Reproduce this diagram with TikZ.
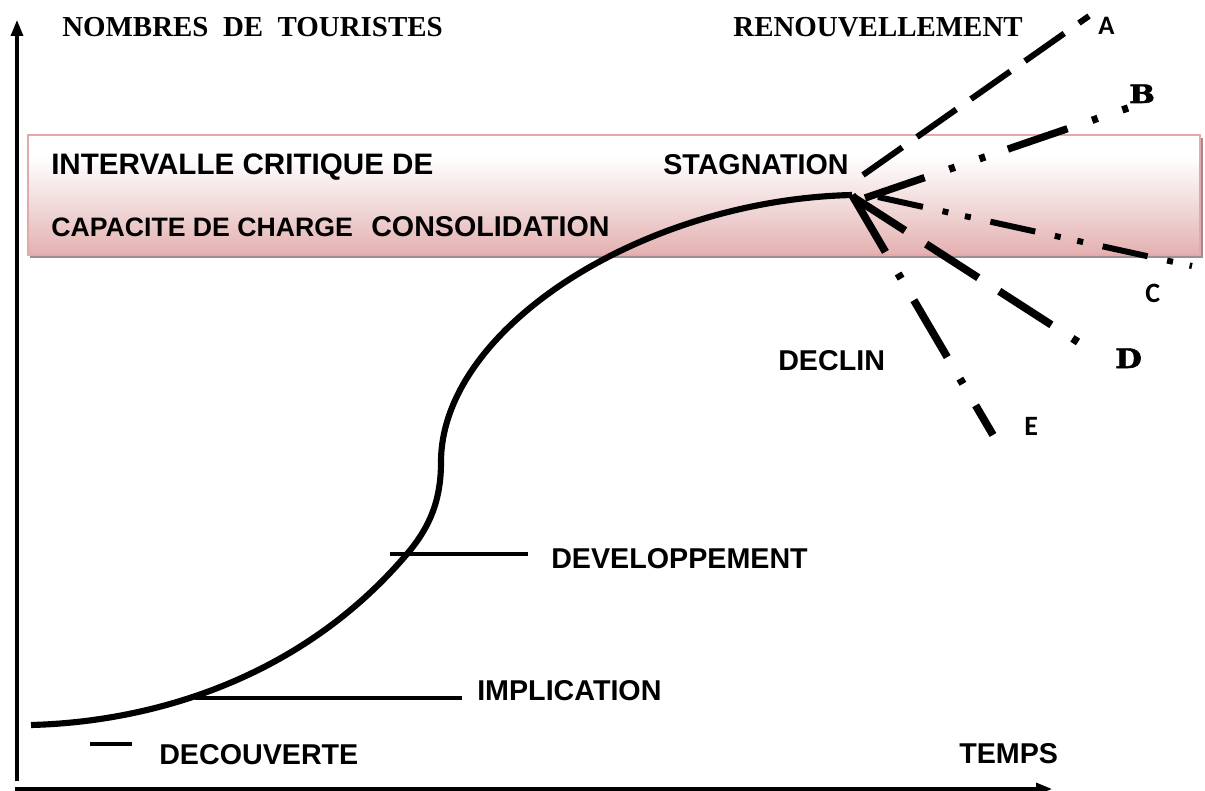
\documentclass[tikz,border=0pt]{standalone}
\usepackage{fontspec}
\usepackage{graphicx}
\usetikzlibrary{arrows.meta}
\setmainfont{Liberation Sans}
\newfontfamily\titlefont{Liberation Serif}
\newfontfamily\letterfont{Carlito}
\newfontfamily\slabfont{DejaVu Serif}[BoldFeatures={FakeBold=2}]

\definecolor{boxbottom}{RGB}{228,176,176}
\definecolor{boxmid}{RGB}{242,220,220}
\definecolor{boxedge}{RGB}{226,170,170}
\definecolor{boxshadow}{RGB}{160,142,142}

\pgfdeclareverticalshading{boxfade}{100bp}{color(0bp)=(boxbottom); color(25bp)=(boxbottom); color(47bp)=(boxmid); color(66bp)=(white); color(100bp)=(white)}

\tikzset{
  axis/.style={line width=2.4pt, -{Triangle[length=12pt,width=9pt]}},
  phase/.style={font=\bfseries\fontsize{21.5}{24}\selectfont, inner sep=0pt, anchor=base west},
  heading/.style={font=\titlefont\bfseries\fontsize{21.7}{24}\selectfont, inner sep=0pt},
  tag/.style={font=\letterfont\bfseries\fontsize{21}{24}\selectfont, inner sep=0pt, anchor=base west},
  slab/.style={font=\slabfont\bfseries\fontsize{19}{22}\selectfont, inner sep=0pt, anchor=base west},
  marker/.style={line width=2.4pt},
  scenario/.style={line cap=butt}
}

\begin{document}
\begin{tikzpicture}[x=0.75pt,y=-0.75pt]
\useasboundingbox (0,0) rectangle (1205,791);

% carrying-capacity band
\fill[boxshadow] (30,138) rectangle (1203,258);
\shade[shading=boxfade] (28,135) rectangle (1200,255);
\draw[boxedge, line width=2pt] (28,135) rectangle (1200,255);

% axes
\coordinate (origin-y) at (17,781);
\coordinate (top-y) at (17,20);
\coordinate (origin-x) at (15,789);
\coordinate (end-x) at (1052,789);
\draw[axis] (origin-y) -- (top-y);
\draw[axis] (origin-x) -- (end-x);

% axis titles
\node[heading, anchor=base west] (nombres) at (62,37) {NOMBRES~~DE~~TOURISTES};
\node[heading, anchor=base east] (renouv) at (1023,37) {RENOUVELLEMENT};
\node[phase] (temps) at (959,763) {TEMPS};

% texts inside the band
\node[phase, font=\bfseries\fontsize{22.2}{24}\selectfont] (intervalle) at (51,175) {INTERVALLE CRITIQUE DE};
\node[phase, font=\bfseries\fontsize{20}{22}\selectfont] (capacite) at (51,237) {CAPACITE DE CHARGE};
\node[phase] (consolidation) at (371,237) {CONSOLIDATION};
\node[phase] (stagnation) at (663,175) {STAGNATION};

% life-cycle curve
\coordinate (start) at (31,725);
\coordinate (dev-cross) at (407,554);
\coordinate (inflexion) at (441,462);
\coordinate (peak) at (852,195);
\draw[line width=4.6pt, line join=round]
  (start) .. controls (150,722) and (300,680) .. (dev-cross)
          .. controls (430,527) and (441,500) .. (inflexion)
          .. controls (441,330) and (640,200) .. (peak);

% phase markers and labels
\coordinate (dec-a) at (90,744);
\coordinate (dec-b) at (132,744);
\draw[marker] (dec-a) -- (dec-b);
\node[phase] (decouverte) at (159,764) {DECOUVERTE};

\coordinate (impl-a) at (195,698);
\coordinate (impl-b) at (462,698);
\draw[marker] (impl-a) -- (impl-b);
\node[phase] (implication) at (477,700) {IMPLICATION};

\coordinate (dev-a) at (390,554);
\coordinate (dev-b) at (528,554);
\draw[marker] (dev-a) -- (dev-b);
\node[phase] (developpement) at (551,568) {DEVELOPPEMENT};

\node[phase] (declin) at (778,370) {DECLIN};

% scenarios after stagnation
\coordinate (a-start) at (863,175);
\coordinate (a-end) at (1089,16);
\coordinate (b-start) at (865,198);
\coordinate (b-end) at (1128,108);
\coordinate (c-start) at (878,197);
\coordinate (c-end) at (1192,266);
\coordinate (d-start) at (853,197);
\coordinate (d-end) at (1078,342);
\coordinate (e-start) at (852,195);
\coordinate (e-end) at (993,435);

\draw[scenario, line width=4.5pt, dash pattern=on 36pt off 13.5pt] (a-start) -- (a-end);
\draw[scenario, line width=5.5pt, dash pattern=on 47.25pt off 19.5pt on 4.5pt off 19.5pt on 4.5pt off 18pt] (b-start) -- (b-end);
\draw[scenario, line width=4.5pt, dash pattern=on 34.5pt off 15pt on 4.5pt off 12.75pt on 4.5pt off 15pt] (c-start) -- (c-end);
\draw[scenario, line width=5.8pt, dash pattern=on 46.5pt off 18.75pt] (d-start) -- (d-end);
\draw[scenario, line width=5.8pt, dash pattern=on 49.5pt off 18.75pt on 4.5pt off 18.75pt] (e-start) -- (e-end);

\node[tag, font=\letterfont\bfseries\fontsize{20}{24}\selectfont] (lab-a) at (1098,35) {A};
\node[slab] (lab-b) at (1129,103) {\scalebox{1.2}[1]{B}};
\node[tag] (lab-c) at (1145,302) {C};
\node[slab, font=\slabfont\bfseries\fontsize{20}{22}\selectfont] (lab-d) at (1115,368) {\scalebox{1.15}[1]{D}};
\node[tag] (lab-e) at (1024,435) {E};
\end{tikzpicture}
\end{document}
